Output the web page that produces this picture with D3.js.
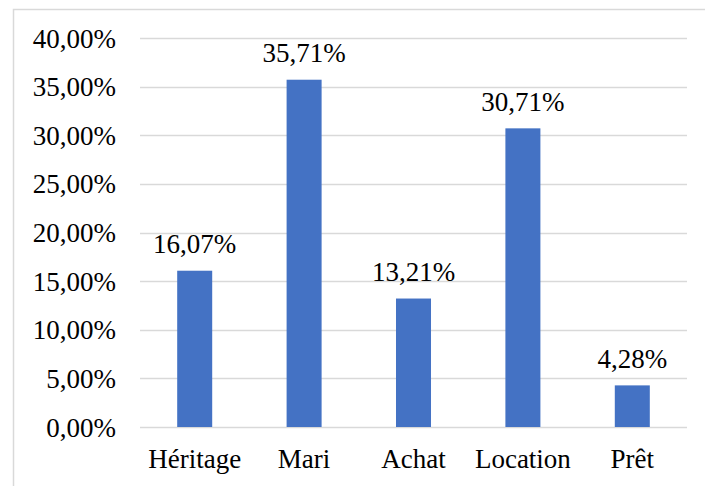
<!DOCTYPE html>
<html>
<head>
<meta charset="utf-8">
<script src="https://cdn.jsdelivr.net/npm/d3@7"></script>
</head>
<body style="margin:0; font-family: 'Liberation Serif', serif">
<svg id="t" width="705" height="486"></svg>
<script>
const categories = ["Héritage", "Mari", "Achat", "Location", "Prêt"];
const values = [16.07, 35.71, 13.21, 30.71, 4.28];
const yTicks = [0, 5, 10, 15, 20, 25, 30, 35, 40];

const svg = d3.select("#t");
const fmt = v => d3.format(".2f")(v).replace(".", ",") + "%";

const x = d3.scaleBand()
  .domain(categories)
  .range([140, 687])
  .paddingInner(0.68)
  .paddingOuter(0.34);

const y = d3.scaleLinear()
  .domain([0, 40])
  .range([427, 38]);

// outer frame (right and bottom edges run past the picture)
svg.append("rect")
  .attr("x", 13.5).attr("y", 9.5)
  .attr("width", 720).attr("height", 500)
  .attr("fill", "none")
  .attr("stroke", "#d9d9d9")
  .attr("stroke-width", 1.5);

// gridlines
svg.append("g")
  .selectAll("line")
  .data(yTicks)
  .join("line")
  .attr("x1", 140).attr("x2", 687)
  .attr("y1", d => Math.round(y(d)) + 0.5)
  .attr("y2", d => Math.round(y(d)) + 0.5)
  .attr("stroke", "#d9d9d9")
  .attr("stroke-width", 1.5);

// bars
svg.append("g")
  .selectAll("rect")
  .data(values)
  .join("rect")
  .attr("x", (d, i) => x(categories[i]))
  .attr("width", x.bandwidth())
  .attr("y", d => y(d))
  .attr("height", d => y(0) - y(d))
  .attr("fill", "#4472c4");

// y tick labels
svg.selectAll("text.ytick")
  .data(yTicks)
  .join("text")
  .attr("class", "ytick")
  .attr("x", 116)
  .attr("y", d => y(d) + 9.5)
  .attr("text-anchor", "end")
  .attr("font-size", 27)
  .style("font-family", "Liberation Serif")
  .text(fmt);

// value labels
svg.selectAll("text.val")
  .data(values)
  .join("text")
  .attr("class", "val")
  .attr("x", (d, i) => x(categories[i]) + x.bandwidth() / 2)
  .attr("y", d => y(d) - 17.5)
  .attr("text-anchor", "middle")
  .attr("font-size", 27)
  .style("font-family", "Liberation Serif")
  .text(fmt);

// category labels
svg.selectAll("text.cat")
  .data(categories)
  .join("text")
  .attr("class", "cat")
  .attr("x", d => x(d) + x.bandwidth() / 2)
  .attr("y", 468)
  .attr("text-anchor", "middle")
  .attr("font-size", 27)
  .style("font-family", "Liberation Serif")
  .text(d => d);
</script>
</body>
</html>
